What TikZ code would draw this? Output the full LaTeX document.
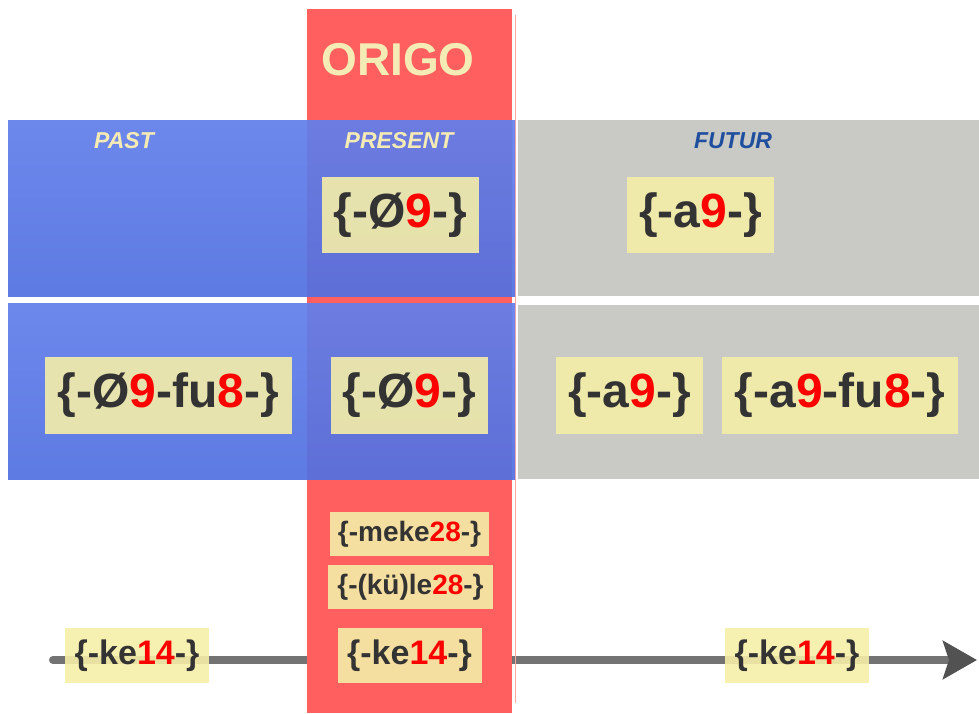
\documentclass[tikz,border=0pt]{standalone}
\usepackage{fontspec}
\setmainfont{Liberation Sans}
\usepackage{xcolor}
\usetikzlibrary{positioning,arrows.meta}
\definecolor{origored}{HTML}{FF5F5F}
\definecolor{pastblue}{HTML}{5474E8}
\definecolor{futgray}{HTML}{C9C9C5}
\definecolor{cream}{HTML}{F5EBB5}
\definecolor{morphfill}{HTML}{F5EEA8}
\definecolor{morphtext}{HTML}{333333}
\definecolor{futblue}{HTML}{1F4E9F}
\newcommand{\rn}[1]{\textcolor{red}{#1}}
\tikzset{
blueband/.style={
top color=pastblue!92!white,
bottom color=pastblue!97!black,
opacity=0.93
},
grayband/.style={
fill=futgray
},
tense/.style={
font=\fontsize{23}{26}\selectfont\bfseries\itshape,
text=cream
},
morph/.style={
fill=morphfill,
fill opacity=0.9,
text opacity=1,
inner sep=0pt,
text=morphtext,
font=\fontsize{48}{50}\selectfont\bfseries
},
smallmorph/.style={
morph,
font=\fontsize{28}{30}\selectfont\bfseries
},
kemorph/.style={
morph,
minimum width=144,
minimum height=55,
font=\fontsize{34}{36}\selectfont\bfseries
},
timeline/.style={
line width=8pt,
draw=black!55,
line cap=round,
-{Stealth[length=34pt,width=38pt,inset=6pt,color=black!68]}
}
}
\begin{document}
\begin{tikzpicture}[x=1pt,y=-1pt]
\useasboundingbox (0,0) rectangle (979,713);

% time axis
\coordinate (axL) at (53,660);
\coordinate (axR) at (977,660);
\draw[timeline](axL)--(axR);

% origo strip
\fill[origored] (307,9) rectangle (512,713);
\draw[origored!55,line width=1.5pt] (515.5,15)--(515.5,703);
\node[font=\fontsize{46}{48}\selectfont\bfseries,text=cream](origo) at (398,60){ORIGO};

% bands
\shade[blueband] (8,120) rectangle (515,296);
\shade[blueband] (8,303) rectangle (515,479);
\fill[grayband] (518,120) rectangle (979,296);
\fill[grayband] (518,305) rectangle (979,479);

\node[tense](past) at (124,141){PAST};
\node[tense](present) at (399,141){PRESENT};
\node[tense,text=futblue](futur) at (733,141){FUTUR};

% first row
\node[morph,minimum width=157,minimum height=76](presA) at (400.5,215){\{-Ø\rn{9}-\}};
\node[morph,minimum width=147,minimum height=76](futA) at (700.5,215){\{-a\rn{9}-\}};

% second row
\node[morph,minimum width=247,minimum height=77](pastB) at (168.5,395.5){\{-Ø\rn{9}-fu\rn{8}-\}};
\node[morph,minimum width=157,minimum height=77](presB) at (409.5,395.5){\{-Ø\rn{9}-\}};
\node[morph,minimum width=147,minimum height=77](futB) at (629.5,395.5){\{-a\rn{9}-\}};
\node[morph,minimum width=236,minimum height=77](futC) at (840,395.5){\{-a\rn{9}-fu\rn{8}-\}};

% present only
\node[smallmorph,minimum width=159,minimum height=44](meke) at (409.5,534){\{-meke\rn{28}-\}};
\node[smallmorph,minimum width=165,minimum height=44](kule) at (410.5,587){\{-(kü)le\rn{28}-\}};

% on the axis
\foreach \n/\x in {kePast/137,kePres/409.5,keFut/797}
\node[kemorph](\n) at (\x,655.5){\{-ke\rn{14}-\}};
\end{tikzpicture}
\end{document}
